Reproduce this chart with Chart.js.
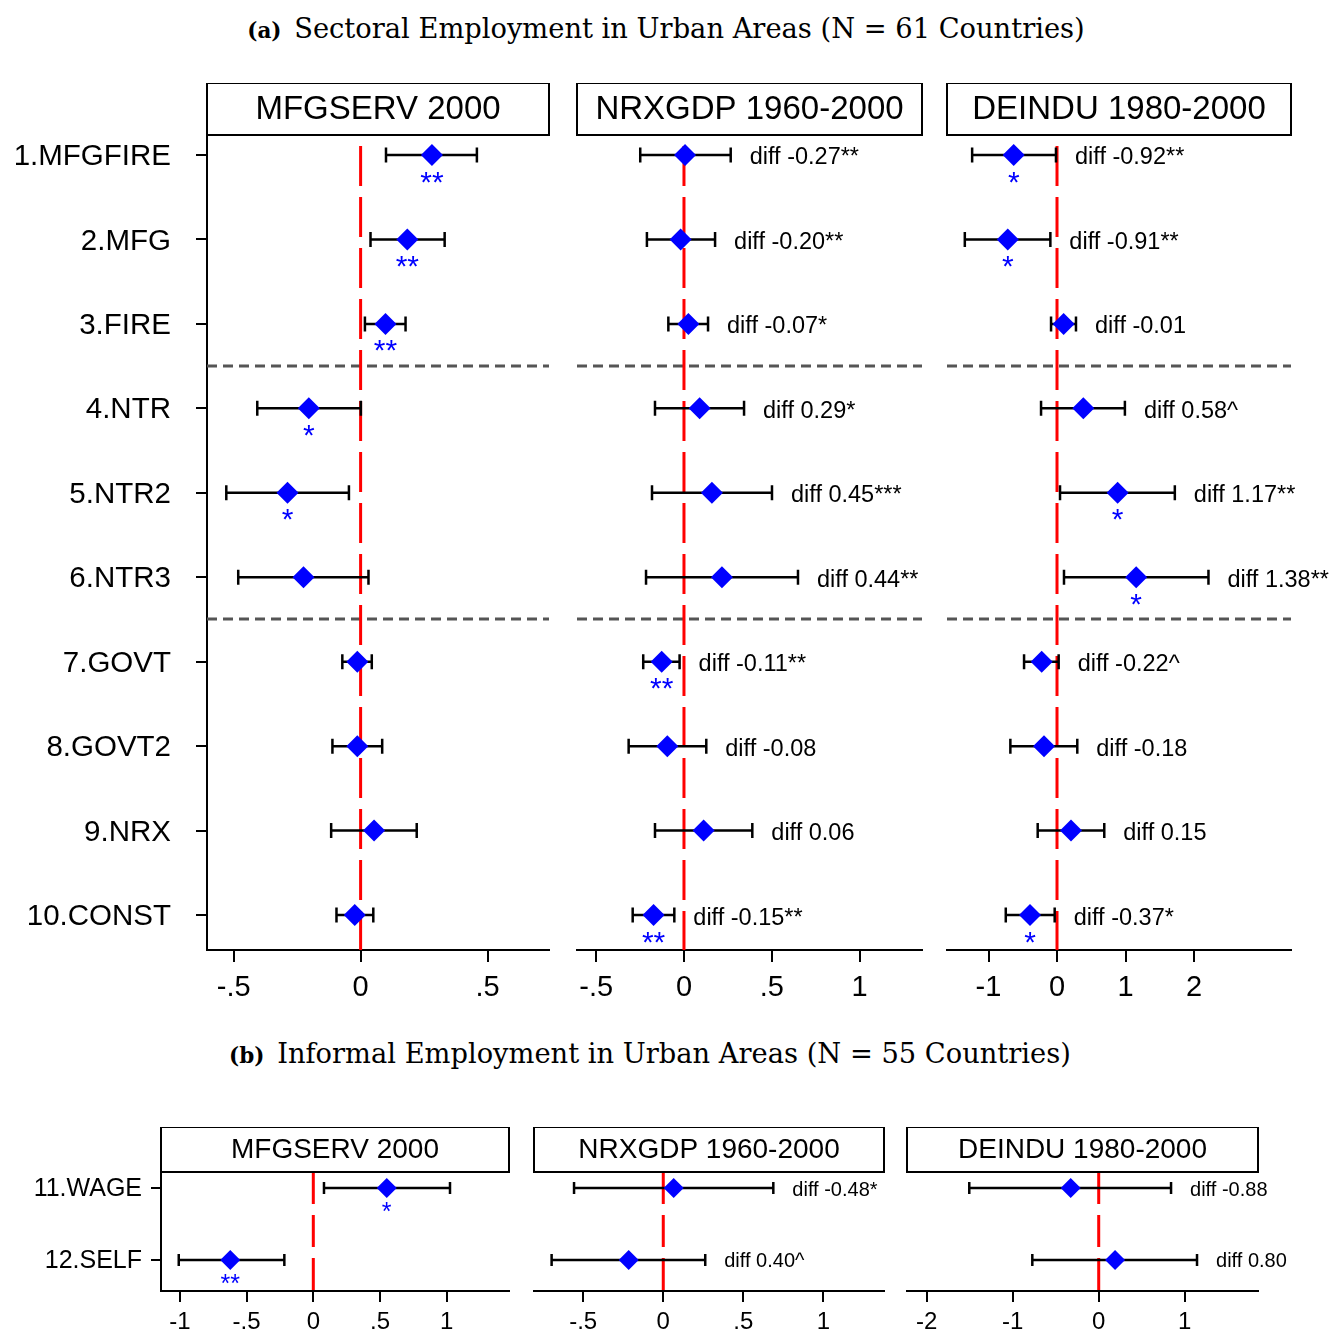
<!DOCTYPE html>
<html>
<head>
<meta charset="utf-8">
<script src="https://cdn.jsdelivr.net/npm/chart.js@4.4.0/dist/chart.umd.min.js"></script>
<style>
  body { margin: 0; background: #fff; width: 1333px; height: 1332px; position: relative; overflow: hidden; }
  canvas { position: absolute; }
  .ttl { position: absolute; font-family: 'DejaVu Serif', serif; font-size: 27.3px; text-align: center; white-space: nowrap; color: #000; }
  .ttl b { font-size: 21.5px; margin-right: 4px; }
</style>
</head>
<body>
<div class="ttl" style="left:166px;width:1000px;top:13px"><b>(a)</b> Sectoral Employment in Urban Areas (N = 61 Countries)</div>
<div class="ttl" style="left:150px;width:1000px;top:1038px"><b>(b)</b> Informal Employment in Urban Areas (N = 55 Countries)</div>

<canvas id="a1" width="560" height="932" style="left:0;top:83px"></canvas>
<canvas id="a2" width="377" height="932" style="left:560px;top:83px"></canvas>
<canvas id="a3" width="403" height="932" style="left:930px;top:83px"></canvas>
<canvas id="b1" width="520" height="205" style="left:0;top:1127px"></canvas>
<canvas id="b2" width="380" height="205" style="left:517px;top:1127px"></canvas>
<canvas id="b3" width="443" height="205" style="left:890px;top:1127px"></canvas>

<script>
// ---- data ----
const rowLabelsA = ['1.MFGFIRE', '2.MFG', '3.FIRE', '4.NTR', '5.NTR2', '6.NTR3', '7.GOVT', '8.GOVT2', '9.NRX', '10.CONST'];
const rowLabelsB = ['11.WAGE', '12.SELF'];
const panelTitles = ['MFGSERV 2000', 'NRXGDP 1960-2000', 'DEINDU 1980-2000'];

// (a) MFGSERV 2000
const mfgCoef  = [0.281, 0.184, 0.098, -0.204, -0.288, -0.225, -0.013, -0.013, 0.053, -0.023];
const mfgLo    = [0.100, 0.039, 0.017, -0.407, -0.529, -0.482, -0.072, -0.111, -0.116, -0.095];
const mfgHi    = [0.458, 0.331, 0.177, 0.001, -0.046, 0.031, 0.044, 0.085, 0.221, 0.050];
const mfgStars = ['**', '**', '**', '*', '*', '', '', '', '', ''];

// (a) NRXGDP 1960-2000
const nrxCoef  = [0.006, -0.019, 0.025, 0.089, 0.159, 0.216, -0.127, -0.095, 0.112, -0.173];
const nrxLo    = [-0.249, -0.211, -0.089, -0.165, -0.182, -0.216, -0.232, -0.315, -0.165, -0.292];
const nrxHi    = [0.266, 0.177, 0.137, 0.342, 0.501, 0.649, -0.025, 0.127, 0.389, -0.055];
const nrxStars = ['', '', '', '', '', '', '**', '', '', '**'];
const nrxDiff  = ['diff -0.27**', 'diff -0.20**', 'diff -0.07*', 'diff 0.29*', 'diff 0.45***',
                  'diff 0.44**', 'diff -0.11**', 'diff -0.08', 'diff 0.06', 'diff -0.15**'];

// (a) DEINDU 1980-2000
const deiCoef  = [-0.632, -0.719, 0.097, 0.384, 0.885, 1.156, -0.224, -0.190, 0.204, -0.394];
const deiLo    = [-1.239, -1.346, -0.087, -0.233, 0.044, 0.102, -0.481, -0.681, -0.282, -0.748];
const deiHi    = [-0.015, -0.097, 0.277, 0.991, 1.720, 2.211, 0.024, 0.296, 0.690, -0.034];
const deiStars = ['*', '*', '', '', '*', '*', '', '', '', '*'];
const deiDiff  = ['diff -0.92**', 'diff -0.91**', 'diff -0.01', 'diff 0.58^', 'diff 1.17**',
                  'diff 1.38**', 'diff -0.22^', 'diff -0.18', 'diff 0.15', 'diff -0.37*'];

// (b) informal employment
const wsMfgCoef = [0.550, -0.622];
const wsMfgLo   = [0.080, -1.008];
const wsMfgHi   = [1.024, -0.217];
const wsMfgStars = ['*', '**'];

const wsNrxCoef = [0.065, -0.216];
const wsNrxLo   = [-0.557, -0.697];
const wsNrxHi   = [0.687, 0.262];
const wsNrxDiff = ['diff -0.48*', 'diff 0.40^'];

const wsDeiCoef = [-0.326, 0.190];
const wsDeiLo   = [-1.505, -0.772];
const wsDeiHi   = [0.841, 1.143];
const wsDeiDiff = ['diff -0.88', 'diff 0.80'];

// axis ranges and ticks
const xRangeA = [[-0.605, 0.742], [-0.609, 1.355], [-1.606, 3.416]];
const xTicksA = [[-0.5, 0, 0.5], [-0.5, 0, 0.5, 1], [-1, 0, 1, 2]];
const xRangeB = [[-1.141, 1.466], [-0.807, 1.378], [-2.229, 1.852]];
const xTicksB = [[-1, -0.5, 0, 0.5, 1], [-0.5, 0, 0.5, 1], [-2, -1, 0, 1]];
const yRangeA = [0.763, 10.414];
const yRangeB = [10.777, 12.432];
const separatorsA = [3.5, 6.5];

const FONT = "'Liberation Sans', Arial, sans-serif";

function fmtTick(v) {
  return String(v).replace('0.', '.');
}

// style per row of panels
const styleA = { label: 29.5, tick: 29, head: 33, headH: 52, diff: 23.5, star: 30, starOff: 22,
                 radius: 11, cap: 7.5, xTickLen: 12, yTickLen: 11, xPad: 9, yPad: 25, axisH: 65,
                 dash: [40, 11], dashOff: 40, labelOff: 2 };
const styleB = { label: 25, tick: 24, head: 28, headH: 45, diff: 20, star: 25, starOff: 19,
                 radius: 10, cap: 6, xTickLen: 11, yTickLen: 10, xPad: 6, yPad: 9, axisH: 41,
                 dash: [32, 11], dashOff: 0, labelOff: 1 };

function forestPlugin(p) {
  const st = p.style;
  return {
    id: 'forest',
    beforeDatasetsDraw(chart) {
      const ctx = chart.ctx, a = chart.chartArea, x = chart.scales.x, y = chart.scales.y;
      ctx.save();
      // group separators
      ctx.strokeStyle = '#555555';
      ctx.lineWidth = 3;
      ctx.setLineDash([10, 6]);
      (p.separators || []).forEach(function (v) {
        const py = Math.round(y.getPixelForValue(v));
        ctx.beginPath(); ctx.moveTo(a.left, py); ctx.lineTo(a.right, py); ctx.stroke();
      });
      // zero line
      ctx.strokeStyle = '#ff0000';
      ctx.lineWidth = 3;
      ctx.setLineDash(st.dash);
      ctx.lineDashOffset = st.dashOff;
      const zx = x.getPixelForValue(0);
      ctx.beginPath(); ctx.moveTo(zx, a.top); ctx.lineTo(zx, a.bottom); ctx.stroke();
      // confidence intervals
      ctx.setLineDash([]);
      ctx.lineDashOffset = 0;
      ctx.strokeStyle = '#000000';
      ctx.lineWidth = 2.5;
      p.lo.forEach(function (lo, i) {
        const py = y.getPixelForValue(p.rows[i]);
        const x0 = x.getPixelForValue(lo), x1 = x.getPixelForValue(p.hi[i]);
        ctx.beginPath();
        ctx.moveTo(x0, py); ctx.lineTo(x1, py);
        ctx.moveTo(x0, py - st.cap); ctx.lineTo(x0, py + st.cap);
        ctx.moveTo(x1, py - st.cap); ctx.lineTo(x1, py + st.cap);
        ctx.stroke();
      });
      ctx.restore();
    },
    afterDatasetsDraw(chart) {
      const ctx = chart.ctx, x = chart.scales.x, y = chart.scales.y;
      ctx.save();
      // significance stars under the diamonds
      ctx.fillStyle = '#0000ff';
      ctx.font = st.star + 'px ' + FONT;
      ctx.textAlign = 'center';
      ctx.textBaseline = 'alphabetic';
      (p.stars || []).forEach(function (s, i) {
        if (!s) return;
        const m = ctx.measureText(s);
        const cy = y.getPixelForValue(p.rows[i]) + st.starOff;
        ctx.fillText(s, x.getPixelForValue(p.coef[i]),
          cy + (m.actualBoundingBoxAscent - m.actualBoundingBoxDescent) / 2);
      });
      // difference labels
      ctx.fillStyle = '#000000';
      ctx.font = st.diff + 'px ' + FONT;
      ctx.textAlign = 'left';
      ctx.textBaseline = 'middle';
      (p.diff || []).forEach(function (s, i) {
        ctx.fillText(s, x.getPixelForValue(p.hi[i]) + 19, y.getPixelForValue(p.rows[i]) + st.labelOff + 1);
      });
      ctx.restore();
    },
    afterDraw(chart) {
      const ctx = chart.ctx, a = chart.chartArea;
      ctx.save();
      ctx.strokeStyle = '#000000';
      ctx.lineWidth = 2;
      ctx.strokeRect(a.left, a.top - st.headH, a.right - a.left, st.headH);
      ctx.fillStyle = '#000000';
      ctx.font = st.head + 'px ' + FONT;
      ctx.textAlign = 'center';
      ctx.textBaseline = 'middle';
      ctx.fillText(p.title, (a.left + a.right) / 2, a.top - st.headH / 2 + 1);
      ctx.restore();
    }
  };
}

function renderPanel(id, p) {
  const st = p.style;
  const showY = !!p.labels;
  new Chart(document.getElementById(id), {
    type: 'scatter',
    data: {
      datasets: [{
        data: p.coef.map(function (c, i) { return { x: c, y: p.rows[i] }; }),
        pointStyle: 'rectRot',
        pointRadius: st.radius,
        pointHoverRadius: st.radius,
        backgroundColor: '#0000ff',
        borderWidth: 0,
        showLine: false
      }]
    },
    options: {
      responsive: false,
      animation: false,
      devicePixelRatio: 1,
      events: [],
      layout: { padding: { top: st.headH, left: p.padL, right: p.padR, bottom: 0 } },
      plugins: { legend: { display: false }, tooltip: { enabled: false } },
      scales: {
        x: {
          type: 'linear',
          min: p.xRange[0],
          max: p.xRange[1],
          afterBuildTicks: function (scale) { scale.ticks = p.xTicks.map(function (v) { return { value: v }; }); },
          afterFit: function (scale) { scale.height = st.axisH; },
          grid: { drawOnChartArea: false, tickLength: st.xTickLen, color: '#000', lineWidth: 2, tickWidth: 2 },
          border: { display: true, color: '#000', width: 2 },
          ticks: {
            autoSkip: false, maxRotation: 0, padding: st.xPad, color: '#000',
            font: { family: FONT, size: st.tick },
            callback: function (v) { return fmtTick(v); }
          }
        },
        y: {
          type: 'linear',
          display: showY,
          reverse: true,
          min: p.yRange[0],
          max: p.yRange[1],
          afterBuildTicks: function (scale) { scale.ticks = p.rows.map(function (v) { return { value: v }; }); },
          afterFit: function (scale) { scale.width = p.yW || 0; },
          grid: { drawOnChartArea: false, tickLength: st.yTickLen, color: '#000', lineWidth: 2, tickWidth: 2 },
          border: { display: true, color: '#000', width: 2 },
          ticks: {
            autoSkip: false, padding: st.yPad, color: '#000', labelOffset: st.labelOff,
            font: { family: FONT, size: st.label },
            callback: function (v) { return showY ? p.labels[p.rows.indexOf(v)] : ''; }
          }
        }
      }
    },
    plugins: [forestPlugin(p)]
  });
}

const rowsA = rowLabelsA.map(function (_, i) { return i + 1; });
const rowsB = rowLabelsB.map(function (_, i) { return i + 11; });

renderPanel('a1', { style: styleA, title: panelTitles[0], labels: rowLabelsA, rows: rowsA, yW: 207, padL: 0, padR: 8,
  coef: mfgCoef, lo: mfgLo, hi: mfgHi, stars: mfgStars, xRange: xRangeA[0], xTicks: xTicksA[0], yRange: yRangeA, separators: separatorsA });
renderPanel('a2', { style: styleA, title: panelTitles[1], rows: rowsA, padL: 17, padR: 15,
  coef: nrxCoef, lo: nrxLo, hi: nrxHi, stars: nrxStars, diff: nrxDiff, xRange: xRangeA[1], xTicks: xTicksA[1], yRange: yRangeA, separators: separatorsA });
renderPanel('a3', { style: styleA, title: panelTitles[2], rows: rowsA, padL: 17, padR: 42,
  coef: deiCoef, lo: deiLo, hi: deiHi, stars: deiStars, diff: deiDiff, xRange: xRangeA[2], xTicks: xTicksA[2], yRange: yRangeA, separators: separatorsA });

renderPanel('b1', { style: styleB, title: panelTitles[0], labels: rowLabelsB, rows: rowsB, yW: 161, padL: 0, padR: 11,
  coef: wsMfgCoef, lo: wsMfgLo, hi: wsMfgHi, stars: wsMfgStars, xRange: xRangeB[0], xTicks: xTicksB[0], yRange: yRangeB });
renderPanel('b2', { style: styleB, title: panelTitles[1], rows: rowsB, padL: 17, padR: 13,
  coef: wsNrxCoef, lo: wsNrxLo, hi: wsNrxHi, diff: wsNrxDiff, xRange: xRangeB[1], xTicks: xTicksB[1], yRange: yRangeB });
renderPanel('b3', { style: styleB, title: panelTitles[2], rows: rowsB, padL: 17, padR: 75,
  coef: wsDeiCoef, lo: wsDeiLo, hi: wsDeiHi, diff: wsDeiDiff, xRange: xRangeB[2], xTicks: xTicksB[2], yRange: yRangeB });
</script>
</body>
</html>
